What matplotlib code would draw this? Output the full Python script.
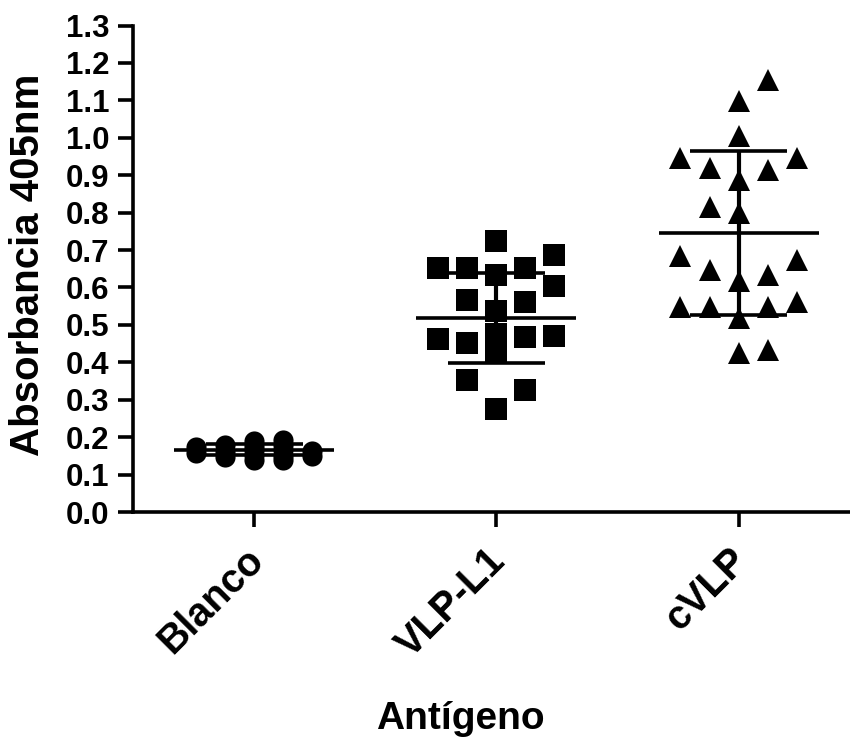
import matplotlib
matplotlib.use('Agg')
import matplotlib.pyplot as plt
from matplotlib.transforms import ScaledTranslation
import numpy as np

# ---------------- data ----------------
categories = ['Blanco', 'VLP-L1', 'cVLP']

blanco_vals = [0.174, 0.158,
               0.178, 0.160, 0.146,
               0.190, 0.176, 0.165, 0.152, 0.138,
               0.193, 0.178, 0.165, 0.150, 0.138,
               0.162, 0.150]
blanco_slot = [-2, -2,
               -1, -1, -1,
               0, 0, 0, 0, 0,
               1, 1, 1, 1, 1,
               2, 2]

vlp_vals = [0.723, 0.632, 0.537, 0.475, 0.424, 0.276,
            0.651, 0.567, 0.452, 0.353,
            0.651, 0.562, 0.468, 0.326,
            0.651, 0.462,
            0.686, 0.605, 0.470]
vlp_slot = [0, 0, 0, 0, 0, 0,
            -1, -1, -1, -1,
            1, 1, 1, 1,
            -2, -2,
            2, 2, 2]

cvlp_vals = [1.154, 1.097, 1.006, 0.946, 0.946, 0.919, 0.915, 0.888,
             0.816, 0.799, 0.683, 0.674, 0.647, 0.634, 0.616,
             0.549, 0.549, 0.549, 0.562, 0.518, 0.424, 0.433]
cvlp_slot = [1, 0, 0, -2, 2, -1, 1, 0,
             -1, 0, -2, 2, -1, 1, 0,
             -2, -1, 1, 2, 0, 0, 1]

means = [0.167, 0.518, 0.745]
sds = [0.015, 0.121, 0.219]

yticks = [0.0, 0.1, 0.2, 0.3, 0.4, 0.5, 0.6, 0.7, 0.8, 0.9, 1.0, 1.1, 1.2, 1.3]

# ---------------- style ----------------
plt.rcParams['font.family'] = ['Liberation Sans', 'DejaVu Sans']
plt.rcParams['font.weight'] = 'bold'

W, H = 850, 740
fig = plt.figure(figsize=(W / 100, H / 100), dpi=100)
ax = fig.add_axes([133 / W, 1 - 512 / H, (W - 133) / W, (512 - 25.5) / H])

slot_width = 0.12
mean_half = 0.33
cap_half = 0.20

groups = [
    (blanco_vals, blanco_slot, 'o', 14.5),
    (vlp_vals, vlp_slot, 's', 16),
    (cvlp_vals, cvlp_slot, '^', 16),
]

for i, (vals, slots, mk, ms) in enumerate(groups):
    x = i + np.array(slots) * slot_width
    ax.plot(x, vals, linestyle='none', marker=mk, markersize=ms,
            color='black', markeredgewidth=0, clip_on=False, zorder=3)
    m, s = means[i], sds[i]
    ax.hlines(m, i - mean_half, i + mean_half, color='black', lw=2.6, zorder=4)
    ax.vlines(i, m - s, m + s, color='black', lw=3.0, zorder=4)
    ax.hlines([m - s, m + s], i - cap_half, i + cap_half, color='black', lw=2.6, zorder=4)

ax.set_xlim(-0.5, 2.46)
ax.set_ylim(0, 1.3)

for sp in ['top', 'right']:
    ax.spines[sp].set_visible(False)
for sp in ['left', 'bottom']:
    ax.spines[sp].set_linewidth(2.6)

ax.set_yticks(yticks)
ax.set_yticklabels([f'{v:.1f}' for v in yticks])
ax.set_xticks(range(len(categories)))
ax.set_xticklabels(categories, rotation=45, ha='right', rotation_mode='anchor')

ax.tick_params(axis='both', direction='out', length=11, width=2.6, color='black')
ax.tick_params(axis='y', pad=6, labelsize=22.5)
ax.tick_params(axis='x', pad=12, labelsize=28.5)

shift = ScaledTranslation(-0.10, 0.03, fig.dpi_scale_trans)
for lab in ax.get_xticklabels():
    lab.set_transform(lab.get_transform() + shift)

ax.set_ylabel('Absorbancia 405nm', fontsize=29, fontweight='bold', va='center')
ax.yaxis.set_label_coords(-0.1464, 0.508)
ax.set_xlabel('Antígeno', fontsize=28, fontweight='bold', va='center')
ax.xaxis.set_label_coords(0.456, -0.425)

fig.savefig('out.png', dpi=100)
